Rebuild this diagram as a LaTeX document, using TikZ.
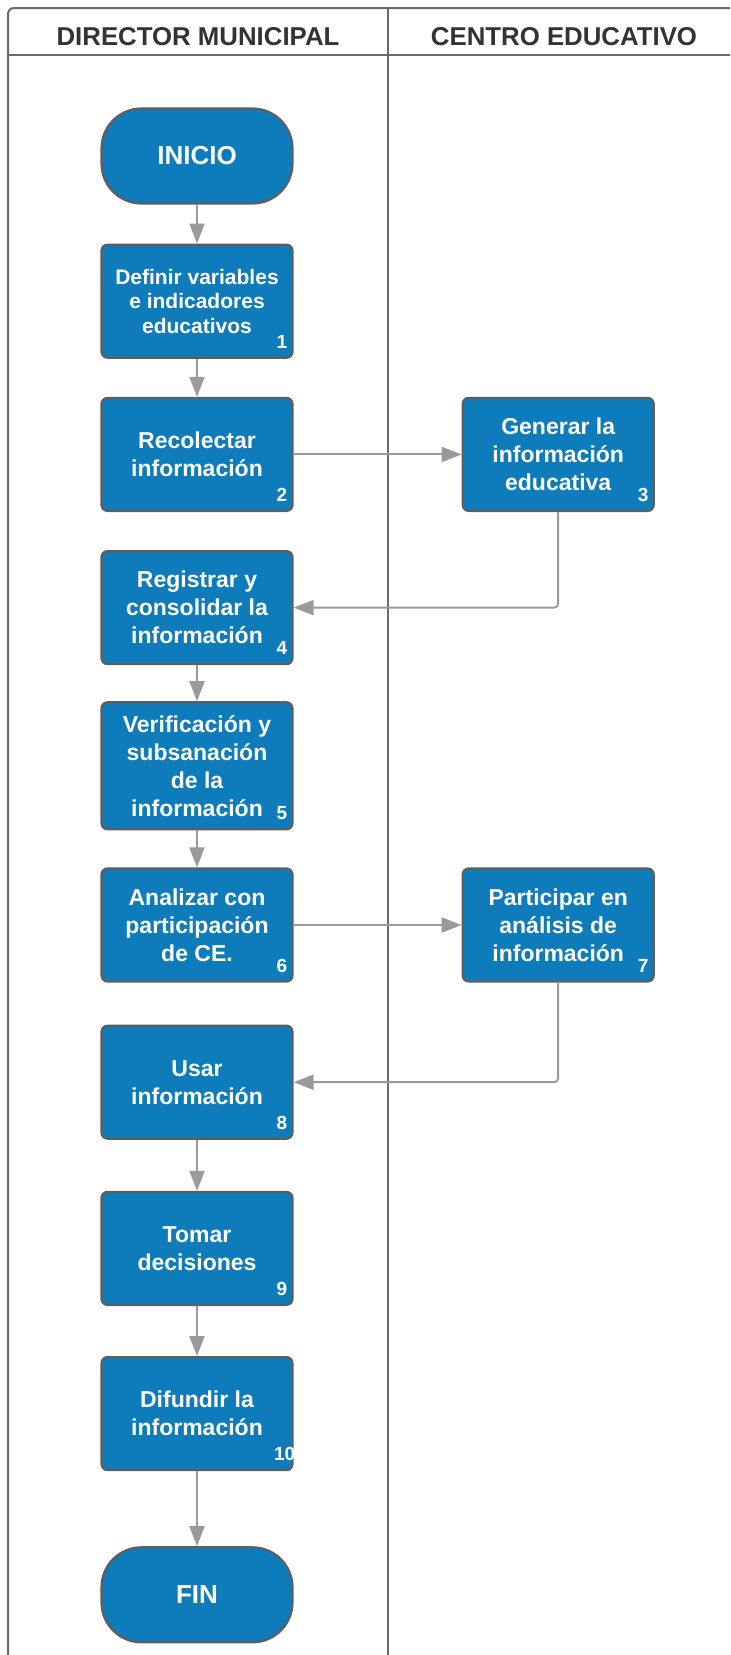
\documentclass[tikz,border=0pt]{standalone}
\usepackage{fontspec}
\setmainfont{Liberation Sans}
\usepackage{xcolor}
\usepackage{tikz}
\usetikzlibrary{arrows.meta,positioning}
\definecolor{stepblue}{HTML}{0E7BBA}
\definecolor{stepedge}{HTML}{5E5E5E}
\definecolor{lanegray}{HTML}{6B6B6B}
\definecolor{flowgray}{HTML}{9A9A9A}
\tikzset{
    swim title/.style={font=\fontsize{12.9}{15}\selectfont\bfseries, text=black!80},
    swim lane/.style={draw=lanegray, line width=1pt},
    swim step/.style={
        draw=stepedge,
        line width=1.1pt,
        rounded corners=3pt,
        fill=stepblue,
        minimum height=56.5pt,
        minimum width=95.5pt,
        align=center,
        text=white,
        font=\fontsize{11.5}{14}\selectfont\bfseries,
        inner sep=2pt
    },
    swim term/.style={swim step, rounded corners=20pt, minimum height=47.5pt,
        font=\fontsize{13}{15}\selectfont\bfseries},
    swim num/.style={font=\fontsize{9.5}{11}\selectfont\bfseries, text=white,
        inner xsep=3pt, inner ysep=5pt, anchor=south east},
    swim arrow/.style={-{Triangle[length=10pt,width=7.5pt]}, line width=1pt, draw=flowgray},
    swim elbow/.style={swim arrow, rounded corners=2pt}
}

\begin{document}
\begin{tikzpicture}[x=1pt, y=1pt]
\clip (0,0) rectangle (365,-827.5);
% lanes
\draw[swim lane, rounded corners=3pt] (4,-832) -- (4,-4) -- (370,-4);
\draw[swim lane] (4,-27.5) -- (370,-27.5);
\draw[swim lane] (194,-4) -- (194,-832);
\node[swim title] (ldir) at (99,-18.5) {DIRECTOR MUNICIPAL};
\node[swim title] (lce) at (282,-18.5) {CENTRO EDUCATIVO};

% Director municipal
\node[swim term] (start) at (98.5,-78) {INICIO};
\node[swim step, below=19.5pt of start, font=\fontsize{10.5}{12.3}\selectfont\bfseries] (s1) {Definir variables\\e indicadores\\educativos};
\node[swim step, below=19pt of s1] (s2) {Recolectar\\información};
\node[swim step, below=19pt of s2] (s4) {Registrar y\\consolidar la\\información};
\node[swim step, below=18pt of s4, minimum height=63.5pt] (s5) {Verificación y\\subsanación\\de la\\información};
\node[swim step, below=18.5pt of s5] (s6) {Analizar con\\participación\\de CE.};
\node[swim step, below=21pt of s6] (s8) {Usar\\información};
\node[swim step, below=25.5pt of s8] (s9) {Tomar\\decisiones};
\node[swim step, below=25pt of s9] (s10) {Difundir la\\información};
\node[swim term, below=37.5pt of s10] (fin) {FIN};

% Centro educativo
\node[swim step, right=84pt of s2] (s3) {Generar la\\información\\educativa};
\node[swim step] (s7) at (s3 |- s6) {Participar en\\análisis de\\información};

% step numbers
\node[swim num] (n1) at (s1.south east) {1};
\node[swim num] (n2) at (s2.south east) {2};
\node[swim num] (n3) at (s3.south east) {3};
\node[swim num] (n4) at (s4.south east) {4};
\node[swim num] (n5) at (s5.south east) {5};
\node[swim num] (n6) at (s6.south east) {6};
\node[swim num] (n7) at (s7.south east) {7};
\node[swim num] (n8) at (s8.south east) {8};
\node[swim num] (n9) at (s9.south east) {9};
\node[swim num, inner xsep=0pt] (n10) at ([xshift=1pt]s10.south east) {10};

% flow
\draw[swim arrow] (start) -- (s1);
\draw[swim arrow] (s1) -- (s2);
\draw[swim arrow] (s2) -- (s3);
\draw[swim elbow] (s3.south) |- (s4.east);
\draw[swim arrow] (s4) -- (s5);
\draw[swim arrow] (s5) -- (s6);
\draw[swim arrow] (s6) -- (s7);
\draw[swim elbow] (s7.south) |- (s8.east);
\draw[swim arrow] (s8) -- (s9);
\draw[swim arrow] (s9) -- (s10);
\draw[swim arrow] (s10) -- (fin);
\end{tikzpicture}
\end{document}
